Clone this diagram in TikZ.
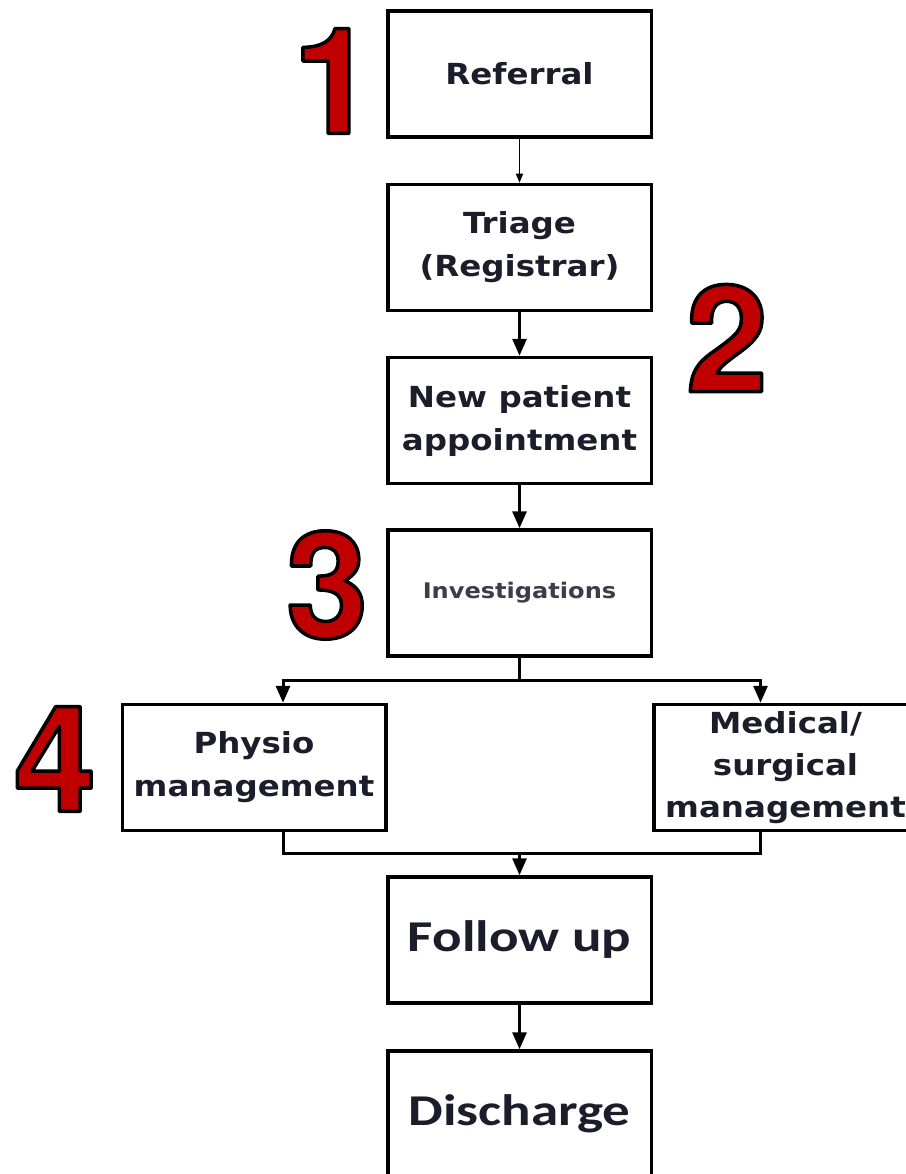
\documentclass[tikz,border=0pt]{standalone}
\usepackage{fontspec}
\usepackage{tikz}
\usetikzlibrary{arrows.meta,positioning,calc}
\newfontfamily\boxfont[FakeStretch=1.12]{DejaVu Sans}
\newfontfamily\wideboxfont[FakeStretch=1.25]{Carlito}
\newfontfamily\numfont{TeX Gyre Heros}
\definecolor{ink}{HTML}{1C1C2A}
\definecolor{greyink}{HTML}{3C3C4A}
\definecolor{numred}{HTML}{C00000}
% red digit with a black rim (fill and stroke the glyph)
\newcommand\rimmed[1]{\special{pdf:code q 0 0 0 RG 3.5 w 1 j 2 Tr}#1\special{pdf:code Q}}

\tikzset{
  stage/.style={draw=black,line width=3.5pt,minimum width=263.5pt,minimum height=126pt,
    inner sep=0pt,align=center,text=ink,font=\boxfont\bfseries\fontsize{29}{43}\selectfont},
  bigstage/.style={stage,font=\wideboxfont\bfseries\fontsize{44}{50}\selectfont},
  numtext/.style={inner sep=0pt,text=numred,font=\numfont\bfseries\fontsize{148}{150}\selectfont},
  flow/.style={line width=3pt,-{Triangle[width=14pt,length=17pt]}},
  thinflow/.style={line width=1.5pt,-{Triangle[width=7pt,length=9pt]}},
  link/.style={line width=3pt}
}

\begin{document}
\begin{tikzpicture}[x=1pt,y=-1pt]
  \useasboundingbox[fill=white] (0,0) rectangle (905,1174);
  % main column
  \node[stage] (ref) at (519.5,74) {Referral};
  \node[stage] (tri) at (519.5,247.5) {Triage\\(Registrar)};
  \node[stage] (new) at (519.5,420.5) {New patient\\appointment};
  \node[stage,text=greyink,font=\boxfont\bfseries\fontsize{21.5}{26}\selectfont] (inv) at (519.5,593) {Investigations};
  % branches
  \node[stage] (phy) at (254,767.5) {Physio\\management};
  \node[stage,font=\boxfont\bfseries\fontsize{29}{42}\selectfont] (med) at (785.5,767.5) {Medical/\\surgical\\management};
  \node[bigstage] (fol) at (519.5,940) {Follow up};
  \node[bigstage] (dis) at (519.5,1114) {Discharge};
  \coordinate (split) at (519.5,680);
  \coordinate (join) at (519.5,853);
  % connectors
  \draw[thinflow] (ref) -- (tri);
  \draw[flow] (tri) -- (new);
  \draw[flow] (new) -- (inv);
  \draw[link] (inv.south) -- (split);
  \draw[flow] (split) -| ([xshift=29pt]phy.north);
  \draw[flow] (split) -| ([xshift=-25pt]med.north);
  \draw[link] ([xshift=29pt]phy.south) |- (join) -| ([xshift=-25pt]med.south);
  \draw[flow] (join) -- (fol);
  \draw[flow] (fol) -- (dis);
  % step numbers
  \foreach \n/\p/\d in {n1/{334,81}/1,n2/{727,338}/2,n3/{327,585}/3,n4/{55,759}/4}
    \node[numtext] (\n) at (\p) {\rimmed{\d}};
\end{tikzpicture}
\end{document}
